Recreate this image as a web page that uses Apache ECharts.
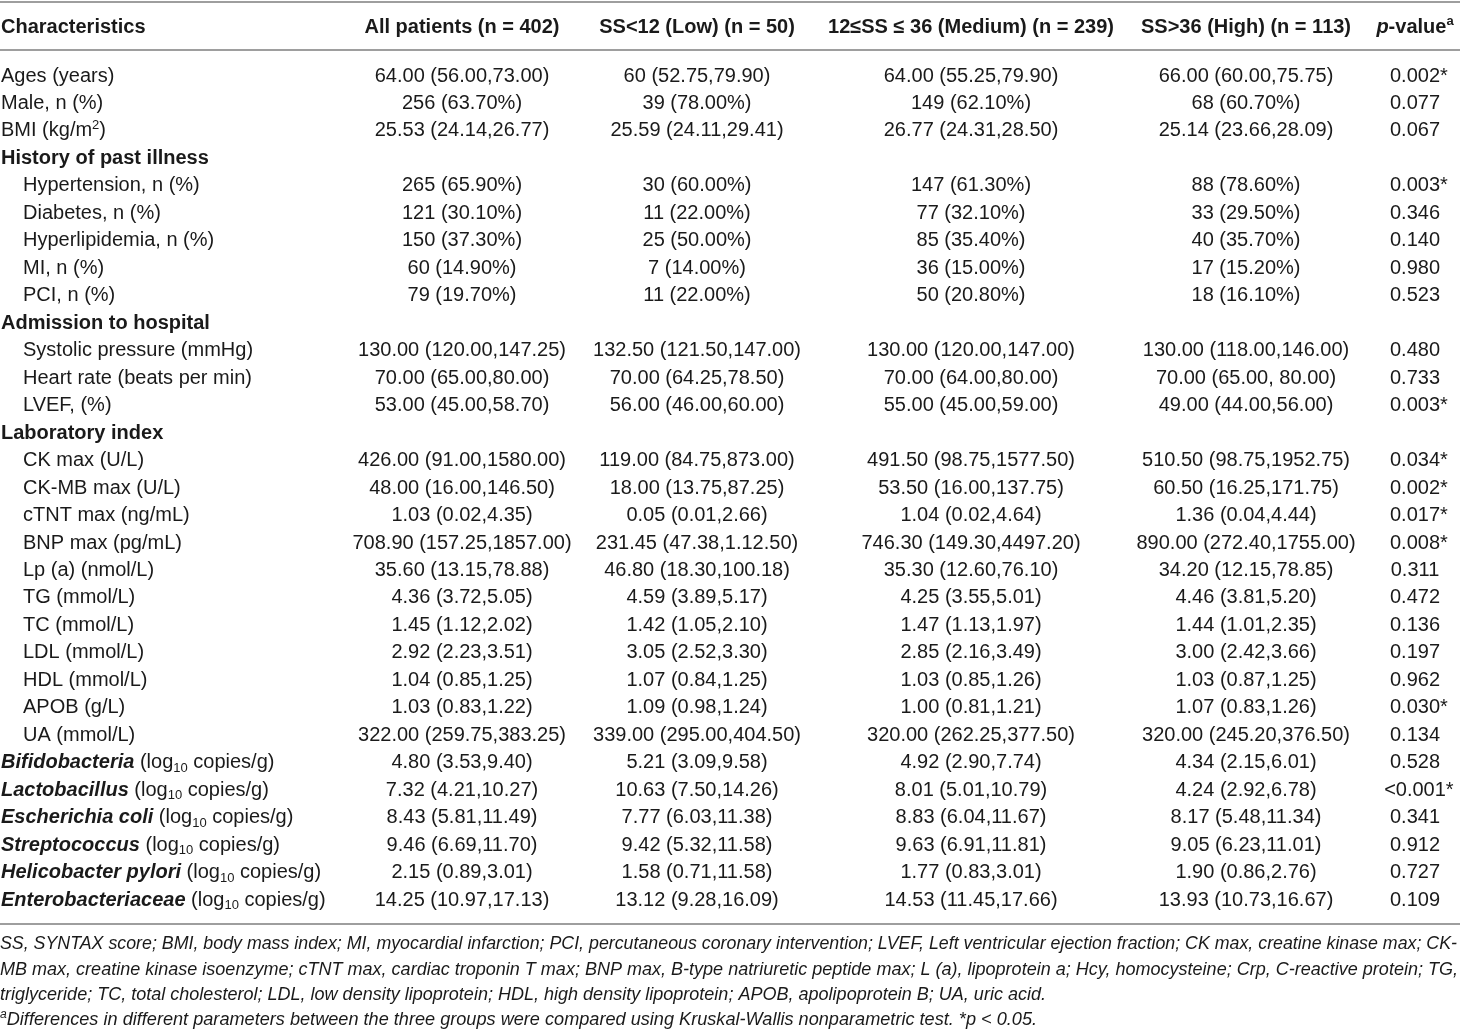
<!DOCTYPE html>
<html>
<head>
<meta charset="utf-8">
<script src="https://cdn.jsdelivr.net/npm/echarts@6/dist/echarts.min.js"></script>
<style>
  html, body { margin: 0; padding: 0; background: #fff; }
  #chart-container { width: 1460px; height: 1033px; }
</style>
</head>
<body>
<div id="chart-container"></div>
<script>
// ---- table content ----
var headerLabels = ['Characteristics', 'All patients (n = 402)', 'SS<12 (Low) (n = 50)',
  '12≤SS ≤ 36 (Medium) (n = 239)', 'SS>36 (High) (n = 113)', '{hbi|p}-value{hsup|a}'];

var rowLabels = [
  'Ages (years)', 'Male, n (%)', 'BMI (kg/m{sup|2})',
  '{b|History of past illness}',
  'Hypertension, n (%)', 'Diabetes, n (%)', 'Hyperlipidemia, n (%)', 'MI, n (%)', 'PCI, n (%)',
  '{b|Admission to hospital}',
  'Systolic pressure (mmHg)', 'Heart rate (beats per min)', 'LVEF, (%)',
  '{b|Laboratory index}',
  'CK max (U/L)', 'CK-MB max (U/L)', 'cTNT max (ng/mL)', 'BNP max (pg/mL)', 'Lp (a) (nmol/L)',
  'TG (mmol/L)', 'TC (mmol/L)', 'LDL (mmol/L)', 'HDL (mmol/L)', 'APOB (g/L)', 'UA (mmol/L)',
  '{bi|Bifidobacteria} (log{sub|10} copies/g)',
  '{bi|Lactobacillus} (log{sub|10} copies/g)',
  '{bi|Escherichia coli} (log{sub|10} copies/g)',
  '{bi|Streptococcus} (log{sub|10} copies/g)',
  '{bi|Helicobacter pylori} (log{sub|10} copies/g)',
  '{bi|Enterobacteriaceae} (log{sub|10} copies/g)'
];
var indentedRows = [4, 5, 6, 7, 8, 10, 11, 12, 14, 15, 16, 17, 18, 19, 20, 21, 22, 23, 24];

var allPatients = [
  '64.00 (56.00,73.00)', '256 (63.70%)', '25.53 (24.14,26.77)', '',
  '265 (65.90%)', '121 (30.10%)', '150 (37.30%)', '60 (14.90%)', '79 (19.70%)', '',
  '130.00 (120.00,147.25)', '70.00 (65.00,80.00)', '53.00 (45.00,58.70)', '',
  '426.00 (91.00,1580.00)', '48.00 (16.00,146.50)', '1.03 (0.02,4.35)', '708.90 (157.25,1857.00)',
  '35.60 (13.15,78.88)', '4.36 (3.72,5.05)', '1.45 (1.12,2.02)', '2.92 (2.23,3.51)',
  '1.04 (0.85,1.25)', '1.03 (0.83,1.22)', '322.00 (259.75,383.25)',
  '4.80 (3.53,9.40)', '7.32 (4.21,10.27)', '8.43 (5.81,11.49)', '9.46 (6.69,11.70)',
  '2.15 (0.89,3.01)', '14.25 (10.97,17.13)'
];
var lowSS = [
  '60 (52.75,79.90)', '39 (78.00%)', '25.59 (24.11,29.41)', '',
  '30 (60.00%)', '11 (22.00%)', '25 (50.00%)', '7 (14.00%)', '11 (22.00%)', '',
  '132.50 (121.50,147.00)', '70.00 (64.25,78.50)', '56.00 (46.00,60.00)', '',
  '119.00 (84.75,873.00)', '18.00 (13.75,87.25)', '0.05 (0.01,2.66)', '231.45 (47.38,1.12.50)',
  '46.80 (18.30,100.18)', '4.59 (3.89,5.17)', '1.42 (1.05,2.10)', '3.05 (2.52,3.30)',
  '1.07 (0.84,1.25)', '1.09 (0.98,1.24)', '339.00 (295.00,404.50)',
  '5.21 (3.09,9.58)', '10.63 (7.50,14.26)', '7.77 (6.03,11.38)', '9.42 (5.32,11.58)',
  '1.58 (0.71,11.58)', '13.12 (9.28,16.09)'
];
var mediumSS = [
  '64.00 (55.25,79.90)', '149 (62.10%)', '26.77 (24.31,28.50)', '',
  '147 (61.30%)', '77 (32.10%)', '85 (35.40%)', '36 (15.00%)', '50 (20.80%)', '',
  '130.00 (120.00,147.00)', '70.00 (64.00,80.00)', '55.00 (45.00,59.00)', '',
  '491.50 (98.75,1577.50)', '53.50 (16.00,137.75)', '1.04 (0.02,4.64)', '746.30 (149.30,4497.20)',
  '35.30 (12.60,76.10)', '4.25 (3.55,5.01)', '1.47 (1.13,1.97)', '2.85 (2.16,3.49)',
  '1.03 (0.85,1.26)', '1.00 (0.81,1.21)', '320.00 (262.25,377.50)',
  '4.92 (2.90,7.74)', '8.01 (5.01,10.79)', '8.83 (6.04,11.67)', '9.63 (6.91,11.81)',
  '1.77 (0.83,3.01)', '14.53 (11.45,17.66)'
];
var highSS = [
  '66.00 (60.00,75.75)', '68 (60.70%)', '25.14 (23.66,28.09)', '',
  '88 (78.60%)', '33 (29.50%)', '40 (35.70%)', '17 (15.20%)', '18 (16.10%)', '',
  '130.00 (118.00,146.00)', '70.00 (65.00, 80.00)', '49.00 (44.00,56.00)', '',
  '510.50 (98.75,1952.75)', '60.50 (16.25,171.75)', '1.36 (0.04,4.44)', '890.00 (272.40,1755.00)',
  '34.20 (12.15,78.85)', '4.46 (3.81,5.20)', '1.44 (1.01,2.35)', '3.00 (2.42,3.66)',
  '1.03 (0.87,1.25)', '1.07 (0.83,1.26)', '320.00 (245.20,376.50)',
  '4.34 (2.15,6.01)', '4.24 (2.92,6.78)', '8.17 (5.48,11.34)', '9.05 (6.23,11.01)',
  '1.90 (0.86,2.76)', '13.93 (10.73,16.67)'
];
var pValues = [
  '0.002*', '0.077', '0.067', '',
  '0.003*', '0.346', '0.140', '0.980', '0.523', '',
  '0.480', '0.733', '0.003*', '',
  '0.034*', '0.002*', '0.017*', '0.008*', '0.311', '0.472', '0.136', '0.197',
  '0.962', '0.030*', '0.134',
  '0.528', '<0.001*', '0.341', '0.912', '0.727', '0.109'
];

var footnotes = [
  'SS, SYNTAX score; BMI, body mass index; MI, myocardial infarction; PCI, percutaneous coronary intervention; LVEF, Left ventricular ejection fraction; CK max, creatine kinase max; CK-',
  'MB max, creatine kinase isoenzyme; cTNT max, cardiac troponin T max; BNP max, B-type natriuretic peptide max; L (a), lipoprotein a; Hcy, homocysteine; Crp, C-reactive protein; TG,',
  'triglyceride; TC, total cholesterol; LDL, low density lipoprotein; HDL, high density lipoprotein; APOB, apolipoprotein B; UA, uric acid.',
  'Differences in different parameters between the three groups were compared using Kruskal-Wallis nonparametric test. *p < 0.05.'
];

// ---- layout ----
var FONT = '"Liberation Sans", Arial, Helvetica, sans-serif';
var W = 1460, H = 1033;
var ROW0_Y = 76, ROW_H = 27.47;          // pixel centre of first body row, row pitch
var colX = [1, 462, 697, 971, 1246, 1415];
var INDENT = 22;
var HEADER_ROW = (27 - ROW0_Y) / ROW_H;
var rules = [(1.5 - ROW0_Y) / ROW_H, (50 - ROW0_Y) / ROW_H, (924 - ROW0_Y) / ROW_H];
var footY = [944, 969.5, 995, 1020];
var footRight = [1457, 1458, 1046, 1037];

var columns = [rowLabels, allPatients, lowSS, mediumSS, highSS, pValues];

var ctx = document.createElement('canvas').getContext('2d');
function textWidth(str, font) {
  ctx.font = font;
  return ctx.measureText(str).width;
}

var richBase = {
  b: { fontWeight: 'bold', fontSize: 20, fontFamily: FONT, lineHeight: 24, verticalAlign: 'middle' },
  bi: { fontWeight: 'bold', fontStyle: 'italic', fontSize: 20, fontFamily: FONT, lineHeight: 24, verticalAlign: 'middle' },
  sup: { fontSize: 13, fontFamily: FONT, lineHeight: 16, verticalAlign: 'top' },
  sub: { fontSize: 13, fontFamily: FONT, lineHeight: 16, verticalAlign: 'bottom' },
  hbi: { fontWeight: 'bold', fontStyle: 'italic', fontSize: 20, fontFamily: FONT, lineHeight: 24, verticalAlign: 'middle' },
  hsup: { fontWeight: 'bold', fontSize: 13, fontFamily: FONT, lineHeight: 16, verticalAlign: 'top' }
};

var cells = [];
for (var r = 0; r < rowLabels.length; r++) {
  for (var c = 0; c < columns.length; c++) {
    if (columns[c][r] === '') continue;
    var x = colX[c] + (c === 0 && indentedRows.indexOf(r) >= 0 ? INDENT : 0);
    cells.push([x, r, c]);
  }
}
var headerCells = headerLabels.map(function (h, c) { return [colX[c], HEADER_ROW, c]; });

function renderBody(params, api) {
  var r = api.value(1), c = api.value(2);
  var pt = api.coord([api.value(0), r]);
  var txt = columns[c][r];
  var normal = '20px ' + FONT;
  if (c === 5 && txt.indexOf('*') >= 0) {
    var num = txt.replace('*', '');
    var w = textWidth(num, normal);
    return {
      type: 'group',
      children: [
        { type: 'text', x: pt[0], y: pt[1], style: { text: num, font: normal, fill: '#1a1a1a', align: 'center', verticalAlign: 'middle' } },
        { type: 'text', x: pt[0] + w / 2, y: pt[1], style: { text: '*', font: normal, fill: '#1a1a1a', align: 'left', verticalAlign: 'middle' } }
      ]
    };
  }
  return {
    type: 'text',
    x: pt[0], y: pt[1],
    style: {
      text: txt, font: normal, fill: '#1a1a1a', lineHeight: 24,
      align: c === 0 ? 'left' : 'center', verticalAlign: 'middle', rich: richBase
    }
  };
}

function renderHeader(params, api) {
  var c = api.value(2);
  var pt = api.coord([api.value(0), api.value(1)]);
  return {
    type: 'text',
    x: pt[0], y: pt[1],
    style: {
      text: headerLabels[c], font: 'bold 20px ' + FONT, fill: '#1a1a1a', lineHeight: 24,
      align: c === 0 ? 'left' : 'center', verticalAlign: 'middle', rich: richBase
    }
  };
}

// footnotes: italic, stretched to the measured line widths
var footFont = 'italic 18px ' + FONT;
var footGraphics = footnotes.map(function (line, i) {
  var natural = textWidth(line, footFont) + (i === 3 ? textWidth('a', 'italic 12px ' + FONT) : 0);
  return {
    type: 'text',
    x: 0, y: footY[i],
    scaleX: footRight[i] / natural,
    style: {
      text: i === 3 ? '{fsup|a}' + line : line,
      font: footFont, fill: '#1a1a1a', lineHeight: 22,
      align: 'left', verticalAlign: 'middle',
      rich: {
        fsup: { fontSize: 12, fontStyle: 'italic', fontFamily: FONT, lineHeight: 14, verticalAlign: 'top' }
      }
    }
  };
});

var option = {
  backgroundColor: '#fff',
  animation: false,
  grid: { left: 0, right: 0, top: 0, bottom: 0 },
  xAxis: { type: 'value', min: 0, max: W, show: false },
  yAxis: { type: 'value', inverse: true, min: -ROW0_Y / ROW_H, max: (H - ROW0_Y) / ROW_H, show: false },
  graphic: footGraphics,
  series: [
    {
      type: 'custom',
      name: 'header',
      clip: false,
      silent: true,
      data: headerCells,
      renderItem: renderHeader,
      markLine: {
        silent: true,
        symbol: ['none', 'none'],
        label: { show: false },
        lineStyle: { color: '#9e9e9e', width: 2, type: 'solid' },
        data: rules.map(function (v) { return { yAxis: v }; })
      }
    },
    {
      type: 'custom',
      name: 'body',
      clip: false,
      silent: true,
      data: cells,
      renderItem: renderBody
    }
  ]
};

var myChart = echarts.init(document.getElementById('chart-container'));
myChart.setOption(option);
</script>
</body>
</html>
